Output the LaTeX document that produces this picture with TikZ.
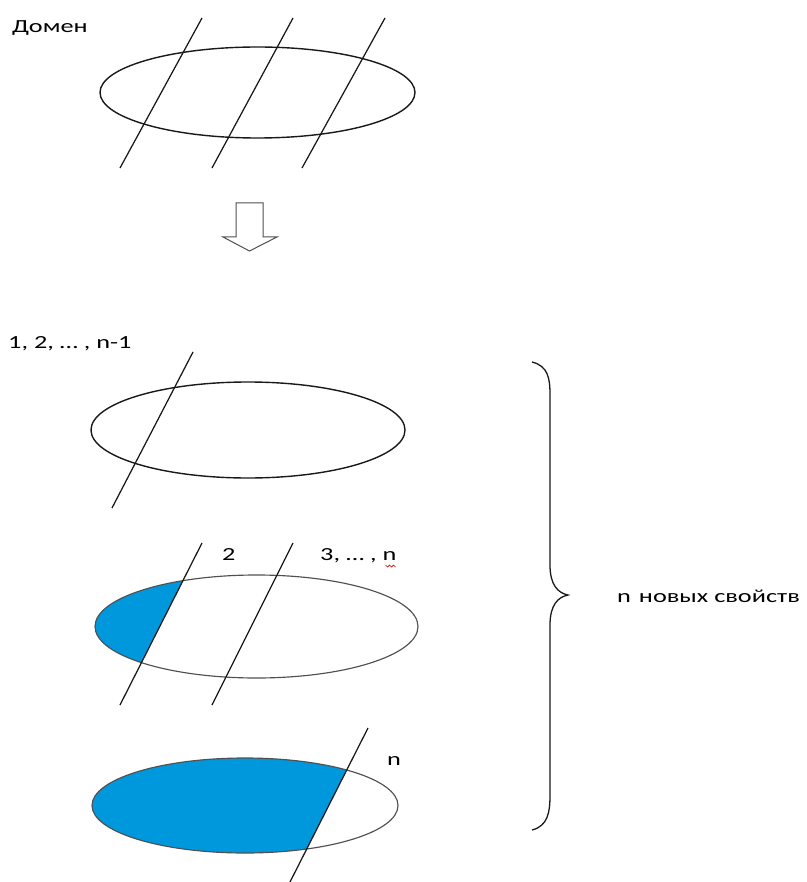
\documentclass[tikz,border=0pt]{standalone}
\usepackage{fontspec}
\setmainfont{Carlito}[FakeStretch=1.42]
\definecolor{fillblue}{RGB}{0,152,220}
\definecolor{ink}{RGB}{25,25,25}
\definecolor{grayline}{RGB}{80,80,80}
\begin{document}
\begin{tikzpicture}[x=1pt,y=-1pt,
  lbl/.style={anchor=base west,inner sep=0pt,font=\fontsize{18.5}{21}\selectfont,text=black},
  cut/.style={draw=ink,line width=1.25pt},
  oval/.style={draw=ink,line width=1.4pt},
  ovalg/.style={draw=grayline,line width=1.15pt}]
\useasboundingbox (0,0) rectangle (806,882);
% --- top: domain
\node[lbl] (dom) at (12,33) {Домен};
\draw[oval] (257.5,92.5) ellipse [x radius=157.5, y radius=45.5];
\coordinate (a1) at (202,18); \coordinate (b1) at (120,168);
\coordinate (a2) at (293,18); \coordinate (b2) at (212,168);
\coordinate (a3) at (385,18); \coordinate (b3) at (302,168);
\draw[cut] (a1) -- (b1);
\draw[cut] (a2) -- (b2);
\draw[cut] (a3) -- (b3);
% --- hollow arrow
\draw[draw=grayline,line width=1pt,fill=white]
  (236,203) -- (263,203) -- (263,237) -- (277,237) -- (249.5,251) -- (223,237) -- (236,237) -- cycle;
% --- second: 1,2,...,n-1
\node[lbl] (l1) at (8,348) {1, 2, … , n-1};
\draw[oval] (248,430) ellipse [x radius=157, y radius=48];
\coordinate (c1) at (193,352); \coordinate (d1) at (112,508);
\draw[cut] (c1) -- (d1);
% --- third
\begin{scope}
  \clip (256.5,626.5) ellipse [x radius=161.5, y radius=51.5];
  \fill[fillblue] (243,462) -- (79,786) -- (0,786) -- (0,462) -- cycle;
\end{scope}
\draw[ovalg] (256.5,626.5) ellipse [x radius=161.5, y radius=51.5];
\coordinate (e1) at (202,543); \coordinate (f1) at (120,705);
\coordinate (e2) at (293,543); \coordinate (f2) at (212,705);
\draw[cut] (e1) -- (f1);
\draw[cut] (e2) -- (f2);
\node[lbl] (l2) at (222,560) {2};
\node[lbl] (l3) at (320,560) {3, … , n};
\draw[red!80!black,line width=0.6pt] (l3.south east) ++(-11,2.5) -- ++(2,2) -- ++(2,-2) -- ++(2,2) -- ++(2,-2) -- ++(2,2);
% --- fourth
\begin{scope}
  \clip (245,805.5) ellipse [x radius=153, y radius=47.5];
  \fill[fillblue] (407,651) -- (251,959) -- (0,959) -- (0,651) -- cycle;
\end{scope}
\draw[ovalg] (245,805.5) ellipse [x radius=153, y radius=47.5];
\coordinate (g1) at (368,728); \coordinate (h1) at (290,882);
\draw[cut] (g1) -- (h1);
\node[lbl] (l4) at (387,765) {n};
% --- brace
\coordinate (bt) at (532,362);
\coordinate (bm) at (568,595);
\coordinate (bb) at (532,830);
\draw[draw=ink,line width=1.3pt]
  (bt) .. controls (548,366) and (550,378) .. (550,395)
  -- (550,565) .. controls (550,585) and (558,593) .. (bm)
  .. controls (558,597) and (550,605) .. (550,625)
  -- (550,795) .. controls (550,812) and (548,826) .. (bb);
\node[lbl] (txt) at (617,602) {n\hspace{8pt}новых свойств};
\end{tikzpicture}
\end{document}
